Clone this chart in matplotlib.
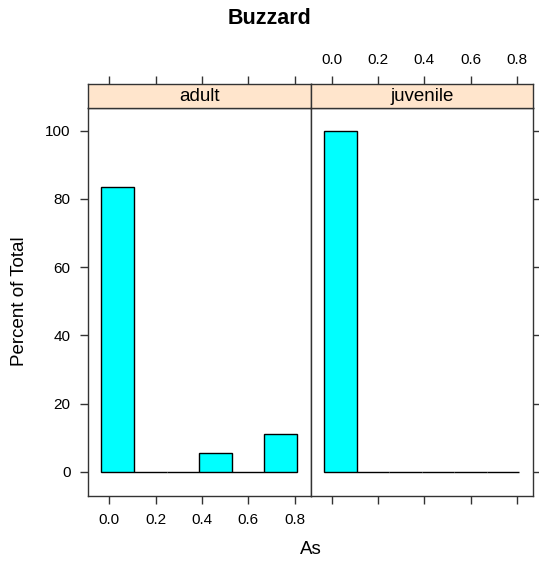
import numpy as np
import matplotlib as mpl
mpl.use('Agg')
import matplotlib.pyplot as plt

plt.rcParams['font.family'] = ['Liberation Sans', 'DejaVu Sans']

# Data: histogram of As by age group (percent of total per panel)
panels = ['adult', 'juvenile']
breaks = [-0.0338, 0.1069, 0.2476, 0.3883, 0.5290, 0.6697, 0.8104]
pct_adult = [83.33, 0, 0, 5.56, 0, 11.11]
pct_juvenile = [100, 0, 0, 0, 0, 0]
xticks = [0.0, 0.2, 0.4, 0.6, 0.8]
yticks = [0, 20, 40, 60, 80, 100]

# Layout (pixels of a 539x561 canvas)
W, H = 539, 561
px_left, px_mid, px_right = 88, 311, 533
px_top, px_bot, px_strip = 107.7, 495.7, 84
xlim = (-0.092, 0.871)
ylim = (-7.0, 106.7)
frame_col = '#333333'
strip_col = '#FFE5CC'
bar_col = '#00FFFF'


def fx(p):
    return p / W


def fy(p):
    return 1 - p / H


def style_ticks(ax):
    for s in ax.spines.values():
        s.set_color(frame_col)
        s.set_linewidth(1.0)
    ax.tick_params(direction='out', length=6, width=1.0, color=frame_col,
                   labelsize=11, pad=6.5)


fig = plt.figure(figsize=(W / 100, H / 100), dpi=100)

data = [pct_adult, pct_juvenile]
edges = [(px_left, px_mid), (px_mid, px_right)]
for i, (name, pct) in enumerate(zip(panels, data)):
    x0, x1 = edges[i]
    ax = fig.add_axes((fx(x0), fy(px_bot), fx(x1 - x0), (px_bot - px_top) / H))
    left = np.array(breaks[:-1])
    widths = np.diff(breaks)
    ax.bar(left, pct, width=widths, align='edge', color=bar_col,
           edgecolor='black', linewidth=1.0)
    ax.set_xlim(xlim)
    ax.set_ylim(ylim)
    style_ticks(ax)
    ax.set_xticks(xticks)
    ax.set_yticks(yticks)
    if i == 0:
        ax.tick_params(axis='x', bottom=True, labelbottom=True)
        ax.tick_params(axis='y', left=True, labelleft=True, right=False)
        ax.set_xticklabels(['%.1f' % t for t in xticks])
    else:
        ax.tick_params(axis='x', bottom=True, labelbottom=False)
        ax.tick_params(axis='y', left=False, labelleft=False, right=True,
                       labelright=False)

    # strip with panel name, top ticks above it
    sax = fig.add_axes((fx(x0), fy(px_top), fx(x1 - x0), (px_top - px_strip) / H))
    sax.set_facecolor(strip_col)
    sax.set_xlim(xlim)
    sax.set_yticks([])
    style_ticks(sax)
    sax.set_xticks(xticks)
    sax.tick_params(axis='x', bottom=False, labelbottom=False, top=True,
                    labeltop=(i == 1))
    if i == 1:
        sax.set_xticklabels(['%.1f' % t for t in xticks])
    sax.text(0.5, 0.47, name, transform=sax.transAxes, ha='center',
             va='center', fontsize=13.5)

fig.text(0.5, fy(18), 'Buzzard', ha='center', va='center',
         fontsize=15.5, fontweight='bold')
fig.text(fx(20), fy(301), 'Percent of Total', rotation=90,
         ha='center', va='center', fontsize=13.5)
fig.text(fx((px_left + px_right) / 2), fy(550), 'As', ha='center',
         va='center', fontsize=13.5)

fig.savefig('out.png', dpi=100)
